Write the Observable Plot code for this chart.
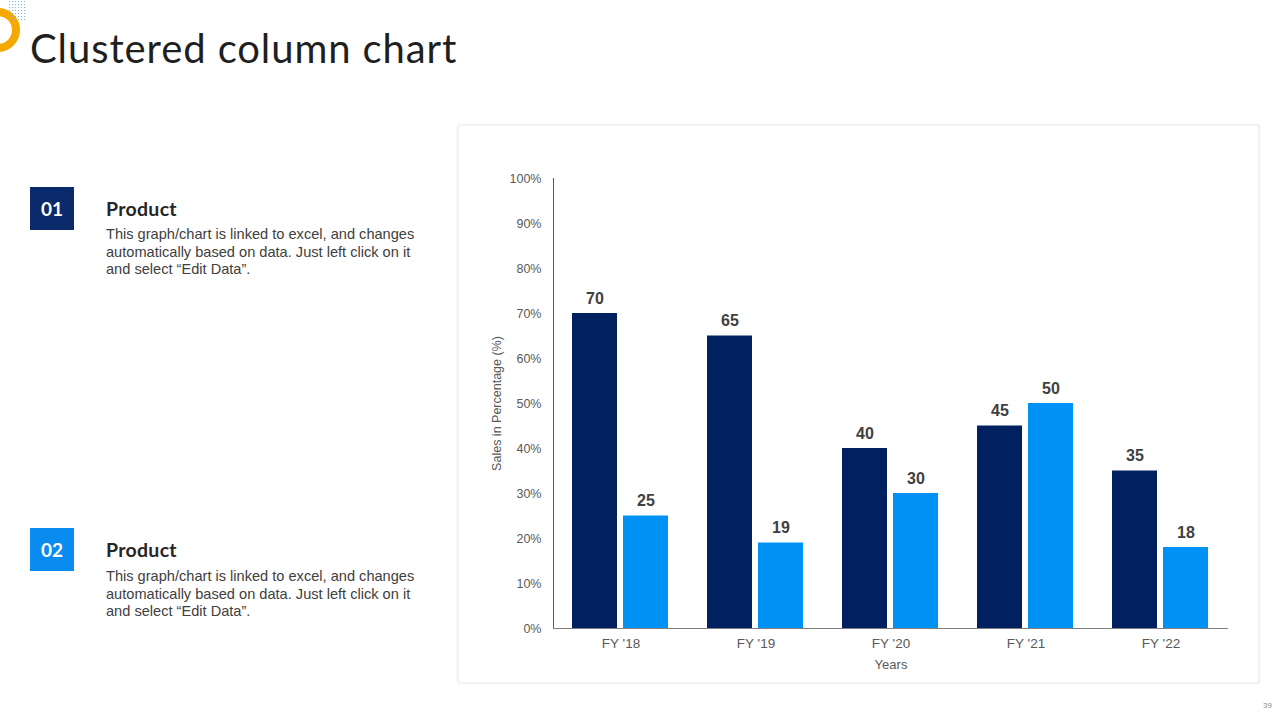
<!DOCTYPE html>
<html>
<head>
<meta charset="utf-8">
<script src="https://cdn.jsdelivr.net/npm/d3@7"></script>
<script src="https://cdn.jsdelivr.net/npm/@observablehq/plot@0.6"></script>
<style>
  html, body { margin: 0; padding: 0; background: #fff; }
  #page { position: relative; width: 1280px; height: 720px; overflow: hidden; background: #fff; font-family: "Liberation Sans", Arial, sans-serif; }
  #ring { position: absolute; left: -24px; top: 8px; width: 28px; height: 28px; border: 8px solid #F5A800; border-radius: 50%; }
  #dots { position: absolute; left: 8px; top: 0px; width: 18px; height: 20px;
    background-image: radial-gradient(circle, #7fb6e0 0.8px, transparent 1px); background-size: 3px 3px; }
  #title { position: absolute; left: 30px; top: 24px; font-family: "Lato", "DejaVu Sans", sans-serif; font-weight: 400; font-size: 40px; color: #1f1f1f; letter-spacing: 0.9px; white-space: nowrap; }
  .num { position: absolute; width: 44px; height: 43px; color: #fff; font-family: "Lato", "DejaVu Sans", sans-serif; font-weight: 700; font-size: 19px; display: flex; align-items: center; justify-content: center; }
  .head { position: absolute; left: 106px; font-family: "Lato", "DejaVu Sans", sans-serif; font-weight: 700; font-size: 19.5px; letter-spacing: 0.3px; color: #262626; }
  .desc { position: absolute; left: 106px; width: 318px; font-size: 14.6px; line-height: 17.5px; color: #404040; }
  #panel { position: absolute; left: 458px; top: 125px; width: 801px; height: 558px; background: #fff; box-shadow: 0 0 3px rgba(0,0,0,0.12); border: 1px solid #f0f0f0; box-sizing: border-box; }
  #chart { position: absolute; left: 458px; top: 125px; }
  #chart g[aria-label="fx-axis tick label"] { font-size: 13.5px; }
  #chart g[aria-label="fx-axis label"] { font-size: 13px; }
  #pg { position: absolute; left: 1263px; top: 701px; font-size: 8px; color: #8c8c8c; }
</style>
</head>
<body>
<div id="page">
  <div id="ring"></div>
  <div id="dots"></div>
  <div id="title">Clustered column chart</div>

  <div class="num" style="left:30px; top:187px; background:#0B2A6C;">01</div>
  <div class="head" style="top:197px;">Product</div>
  <div class="desc" style="top:226px;">This graph/chart is linked to excel, and changes automatically based on data. Just left click on it and select “Edit Data”.</div>

  <div class="num" style="left:30px; top:528px; background:#0A8BF0;">02</div>
  <div class="head" style="top:538px;">Product</div>
  <div class="desc" style="top:568px;">This graph/chart is linked to excel, and changes automatically based on data. Just left click on it and select “Edit Data”.</div>

  <div id="panel"></div>
  <div id="chart"></div>
  <div id="pg">39</div>
</div>
<script>
const years = ["FY '18", "FY '19", "FY '20", "FY '21", "FY '22"];
const seriesNames = ["Product 01", "Product 02"];
const product01 = [70, 65, 40, 45, 35];
const product02 = [25, 19, 30, 50, 18];
const yTicks = [0, 10, 20, 30, 40, 50, 60, 70, 80, 90, 100];
const seriesColors = ["#002060", "#0091F5"];

const rows = [];
years.forEach((yr, i) => {
  rows.push({year: yr, series: seriesNames[0], value: product01[i]});
  rows.push({year: yr, series: seriesNames[1], value: product02[i]});
});

const chart = Plot.plot({
  width: 801,
  height: 558,
  marginLeft: 95,
  marginRight: 31,
  marginTop: 53,
  marginBottom: 55,
  style: {fontFamily: "'Liberation Sans', Arial, sans-serif", fontSize: "12.5px", color: "#595959", background: "transparent"},
  fx: {domain: years, padding: 0, axis: "bottom", label: "Years", labelAnchor: "center", tickSize: 0, tickPadding: 10, labelOffset: 40},
  x: {domain: seriesNames, axis: null, paddingInner: 0.115, paddingOuter: 0.356},
  y: {domain: [0, 100], ticks: yTicks, tickFormat: d => d + "%", tickSize: 0, tickPadding: 12, line: true,
      label: "Sales in Percentage (%)", labelAnchor: "center", labelOffset: 61, labelArrow: false},
  color: {domain: seriesNames, range: seriesColors},
  marks: [
    Plot.barY(rows, {fx: "year", x: "series", y: "value", fill: "series"}),
    Plot.ruleY([0], {stroke: "#7f7f7f", strokeWidth: 1}),
    Plot.text(rows, {fx: "year", x: "series", y: "value", text: d => String(d.value), dy: -15,
      fontWeight: "bold", fontSize: 16, fill: "#404040"})
  ]
});
document.getElementById("chart").appendChild(chart);
</script>
</body>
</html>
